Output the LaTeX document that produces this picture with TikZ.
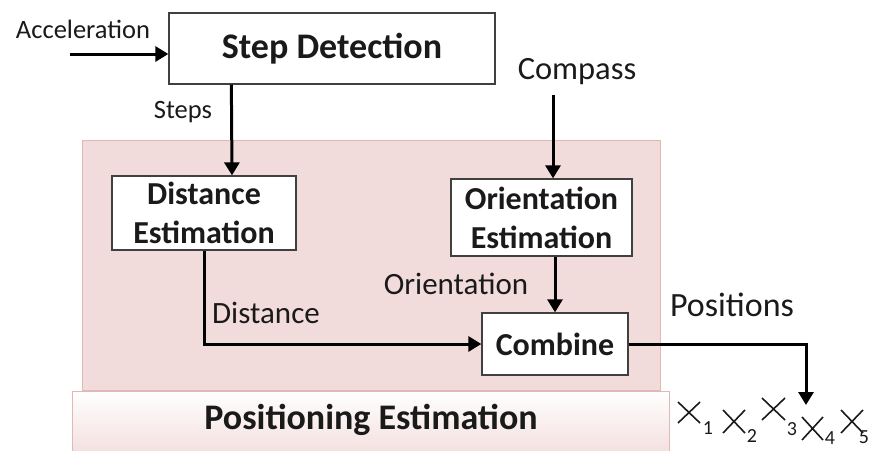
\documentclass[tikz,border=0pt]{standalone}
\usepackage{fontspec}
\setmainfont{Carlito}
\usetikzlibrary{arrows.meta}
\definecolor{pinkfill}{HTML}{F2DCDB}
\definecolor{pinkline}{HTML}{E2B8B7}
\definecolor{boxline}{HTML}{404040}
\definecolor{txt}{HTML}{1A1A1A}
\begin{document}
\begin{tikzpicture}[x=1pt,y=-1pt,
  box/.style={draw=boxline, line width=1.3pt, fill=white, align=center, inner sep=0pt,
    text=txt, font=\fontsize{32}{39}\selectfont\bfseries},
  lbl/.style={font=\fontsize{31}{34}\selectfont, text=txt, inner sep=0pt},
  small/.style={font=\fontsize{26.5}{30}\selectfont, text=txt, inner sep=0pt},
  arr/.style={line width=3pt, -{Triangle[length=13pt,width=15pt]}},
  crossline/.style={draw=txt, line width=1.6pt},
  subnum/.style={font=\fontsize{20}{20}\selectfont, text=txt, inner sep=0pt}]
\useasboundingbox (0,0) rectangle (872,450);
% background regions
\fill[pinkfill, draw=pinkline, line width=0.8pt] (82,140) rectangle (660,390);
\shade[top color=white, bottom color=pinkfill, draw=pinkline, line width=0.8pt] (72,391) rectangle (669,460);
% nodes
\node[box, minimum width=326pt, minimum height=71pt, font=\fontsize{36}{40}\selectfont\bfseries] (sd) at (332,48.5) {Step Detection};
\node[box, minimum width=184pt, minimum height=74pt] (de) at (204,213) {Distance\\Estimation};
\node[box, minimum width=181pt, minimum height=77pt] (oe) at (541.5,217.5) {Orientation\\Estimation};
\node[box, minimum width=146pt, minimum height=62pt] (cb) at (555,344) {Combine};
\node[font=\fontsize{36}{40}\selectfont\bfseries, text=txt, inner sep=0pt] (pe) at (371,420) {Positioning Estimation};
% labels
\node[small] (acc) at (83,29) {Acceleration};
\node[small] (stp) at (183,112) {Steps};
\node[lbl, font=\fontsize{32.5}{36}\selectfont] (cp) at (577,72) {Compass};
\node[lbl] (orl) at (456,284) {Orientation};
\node[lbl] (dil) at (266,313) {Distance};
\node[lbl, font=\fontsize{34}{38}\selectfont] (pos) at (732,305) {Positions};
% connectors
\coordinate (accin) at (70,54);
\draw[arr] (accin) -- (accin -| sd.west);
\draw[arr] ([xshift=63pt]sd.south west) -- ([xshift=28pt]de.north);
\coordinate (cpin) at (553,95);
\draw[arr] (cpin) -- (cpin |- oe.north);
\draw[arr] (oe.south -| cb.north) -- (cb.north);
\draw[arr] (de.south) |- (cb.west);
\coordinate (posend) at (806,405);
\draw[arr] (cb.east) -| (posend);
% positions
\draw[crossline] (678,402) -- (700,423) (678,423) -- (700,402);
\node[subnum] (s1) at (708,428.5) {1};
\draw[crossline] (723,410) -- (745,433) (723,433) -- (745,410);
\node[subnum] (s2) at (752,436.5) {2};
\draw[crossline] (762,398) -- (785,420) (762,420) -- (785,398);
\node[subnum] (s3) at (792,429.5) {3};
\draw[crossline] (802,417) -- (823,440) (802,440) -- (823,417);
\node[subnum] (s4) at (830,438) {4};
\draw[crossline] (841,410) -- (863,433) (841,433) -- (863,410);
\node[subnum] (s5) at (864,437) {5};
\end{tikzpicture}
\end{document}
